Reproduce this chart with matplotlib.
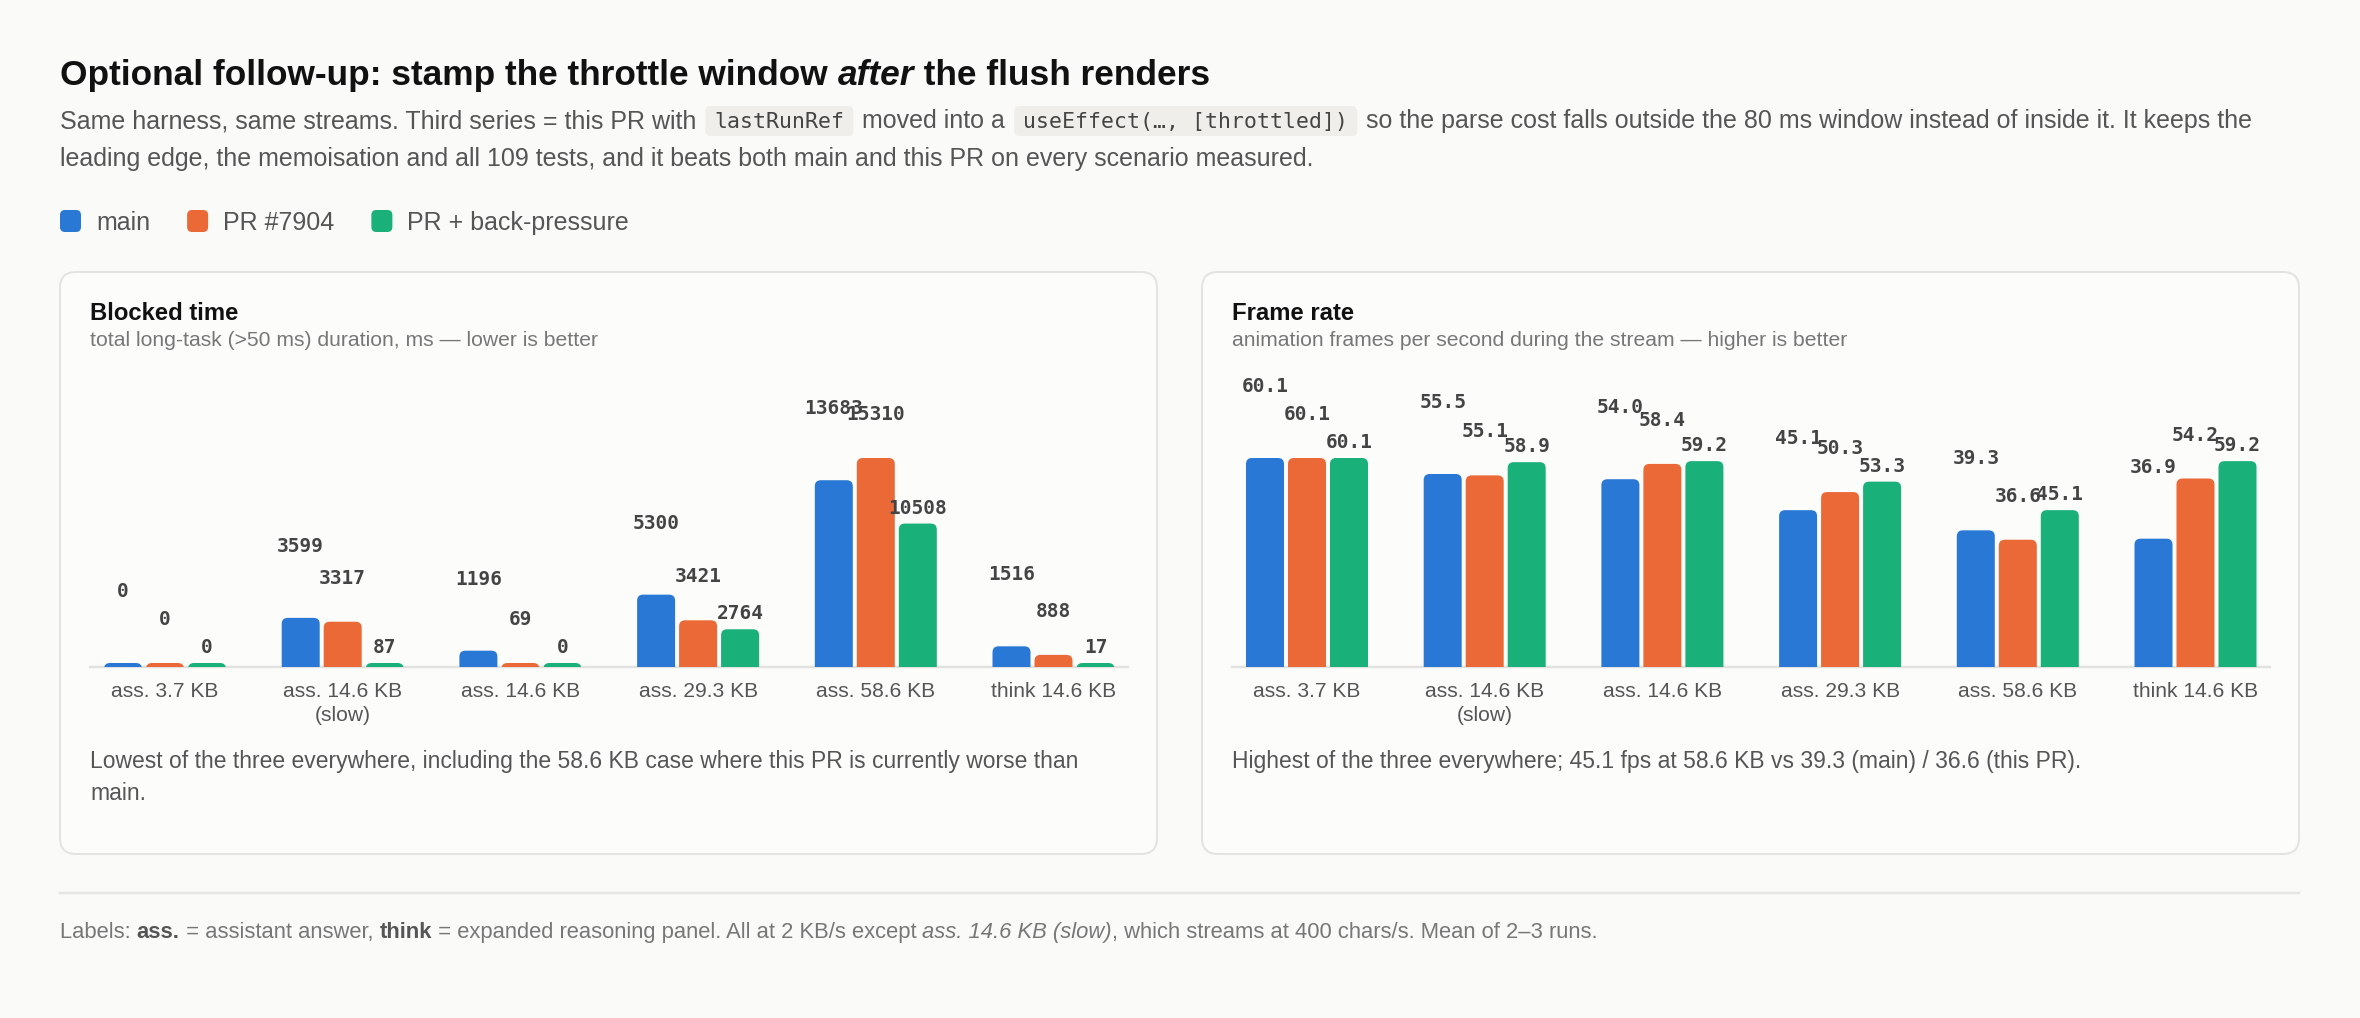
import matplotlib
matplotlib.use("Agg")
import matplotlib.pyplot as plt
from matplotlib.patches import FancyBboxPatch
from matplotlib.lines import Line2D
from matplotlib.transforms import IdentityTransform

# ---------------- data ----------------
categories = ["ass. 3.7 KB", "ass. 14.6 KB\n(slow)", "ass. 14.6 KB",
              "ass. 29.3 KB", "ass. 58.6 KB", "think 14.6 KB"]
series_names = ["main", "PR #7904", "PR + back-pressure"]
series_colors = ["#2a78d6", "#eb6837", "#1ab07a"]

blocked_main = [0, 3599, 1196, 5300, 13683, 1516]
blocked_pr = [0, 3317, 69, 3421, 15310, 888]
blocked_bp = [0, 87, 0, 2764, 10508, 17]

fps_main = [60.1, 55.5, 54.0, 45.1, 39.3, 36.9]
fps_pr = [60.1, 55.1, 58.4, 50.3, 36.6, 54.2]
fps_bp = [60.1, 58.9, 59.2, 53.3, 45.1, 59.2]

# ---------------- figure ----------------
W, H = 2360, 1018
DPI = 100
PT = 72 / DPI
BG = "#fafaf8"
fig = plt.figure(figsize=(W / DPI, H / DPI), dpi=DPI, facecolor=BG)
renderer = fig.canvas.get_renderer()
ID = IdentityTransform()

SANS = "Liberation Sans"
MONO = "DejaVu Sans Mono"


def ptext(x, y, s, **kw):
    return fig.text(x, H - y, s, transform=ID, **kw)


def measure(s, **kw):
    t = fig.text(0, 0, "|" + s + "|", transform=ID, **kw)
    w1 = t.get_window_extent(renderer).width
    t.set_text("||")
    w2 = t.get_window_extent(renderer).width
    t.remove()
    return w1 - w2


def draw_runs(x, y, runs, size, color, code_size=None, code_color="#444444"):
    for s, style, *rest in runs:
        c = rest[0] if rest else color
        if style == "code":
            kw = dict(family=MONO, fontsize=code_size, color=code_color)
            tw = measure(s, **kw)
            x += 2
            box = FancyBboxPatch((x, H - (y + 8)), tw + 18, 30,
                                 boxstyle="round,pad=0,rounding_size=5",
                                 transform=ID, fc="#efeeea", ec="none", zorder=-1)
            fig.add_artist(box)
            ptext(x + 9, y, s, va="baseline", **kw)
            x += tw + 18 + 2
            continue
        kw = dict(family=SANS, fontsize=size, color=c)
        if "b" in style:
            kw["fontweight"] = "bold"
        if "i" in style:
            kw["fontstyle"] = "italic"
        ptext(x, y, s, va="baseline", **kw)
        x += measure(s, **kw)
    return x


# ---------------- header ----------------
draw_runs(60, 85, [("Optional follow-up: stamp the throttle window ", "b"),
                   ("after", "bi"),
                   (" the flush renders", "b")], 25.4, "#111111")

draw_runs(60, 128, [("Same harness, same streams. Third series = this PR with ", "n"),
                    ("lastRunRef", "code"),
                    (" moved into a ", "n"),
                    ("useEffect(…, [throttled])", "code"),
                    (" so the parse cost falls outside the 80 ms window instead of inside it. It keeps the", "n")],
          18, "#555555", code_size=15.5)
draw_runs(60, 166, [("leading edge, the memoisation and all 109 tests, and it beats both main and this PR on every scenario measured.", "n")],
          18, "#555555")

# legend
lx = 60
for name, col in zip(series_names, series_colors):
    sq = FancyBboxPatch((lx, H - 232), 21, 22, boxstyle="round,pad=0,rounding_size=5",
                        transform=ID, fc=col, ec="none")
    fig.add_artist(sq)
    kw = dict(family=SANS, fontsize=18, color="#555555")
    ptext(lx + 36, 230, name, va="baseline", **kw)
    lx = lx + 36 + measure(name, **kw) + 37

# ---------------- cards ----------------
cards = [
    dict(x0=60, x1=1157, title="Blocked time",
         sub="total long-task (>50 ms) duration, ms \u2014 lower is better",
         data=[blocked_main, blocked_pr, blocked_bp], fmt="{:.0f}",
         note=["Lowest of the three everywhere, including the 58.6 KB case where this PR is currently worse than",
               "main."]),
    dict(x0=1202, x1=2299, title="Frame rate",
         sub="animation frames per second during the stream \u2014 higher is better",
         data=[fps_main, fps_pr, fps_bp], fmt="{:.1f}",
         note=["Highest of the three everywhere; 45.1 fps at 58.6 KB vs 39.3 (main) / 36.6 (this PR)."]),
]

CARD_TOP, CARD_BOT = 272, 854
AX_TOP, AX_BASE = 380, 667
STEP = 177.7
BAR_W = 38 / STEP
BAR_OFF = 42 / STEP
LABEL_OFF = [66, 38, 10]
R_PX = 6
MIN_PX = 4

for card in cards:
    x0, x1 = card["x0"], card["x1"]
    box = FancyBboxPatch((x0, H - CARD_BOT), x1 - x0, CARD_BOT - CARD_TOP,
                         boxstyle="round,pad=0,rounding_size=16", transform=ID,
                         fc="#fcfcfb", ec="#e3e3e1", lw=2 * PT, zorder=-5)
    fig.add_artist(box)
    ptext(x0 + 30, 320, card["title"], va="baseline", family=SANS,
          fontweight="bold", fontsize=17.2, color="#111111")
    ptext(x0 + 30, 346, card["sub"], va="baseline", family=SANS,
          fontsize=15.2, color="#777777")
    for k, line in enumerate(card["note"]):
        ptext(x0 + 30, 768 + 32 * k, line, va="baseline", family=SANS,
              fontsize=16.5, color="#555555")

    axl, axr = x0 + 30, x1 - 29
    ax = fig.add_axes([axl / W, 1 - AX_BASE / H, (axr - axl) / W, (AX_BASE - AX_TOP) / H])
    ax.patch.set_visible(False)
    for sp in ax.spines.values():
        sp.set_visible(False)
    ax.set_xticks([])
    ax.set_yticks([])
    xlim = (-75 / STEP, len(categories) - 1 + 74.5 / STEP)
    vmax = max(max(s) for s in card["data"])
    ymax = vmax * (AX_BASE - AX_TOP) / 209.0
    ax.set_xlim(*xlim)
    ax.set_ylim(0, ymax)
    xpp = (xlim[1] - xlim[0]) / (axr - axl)
    ypp = ymax / (AX_BASE - AX_TOP)

    ax.axhline(0, color="#e2e2e0", lw=2.5 * PT, zorder=1, clip_on=False)

    for j, (vals, col) in enumerate(zip(card["data"], series_colors)):
        for i, v in enumerate(vals):
            xc = i + (j - 1) * BAR_OFF
            h = max(v, MIN_PX * ypp)
            ext = 2 * R_PX * ypp
            bar = FancyBboxPatch((xc - BAR_W / 2, -ext), BAR_W, h + ext,
                                 boxstyle=f"round,pad=0,rounding_size={R_PX * xpp}",
                                 mutation_aspect=ypp / xpp, fc=col, ec="none", zorder=2)
            ax.add_patch(bar)
            ax.annotate(card["fmt"].format(v), xy=(xc, h), xytext=(0, LABEL_OFF[j]),
                        textcoords="offset pixels", ha="center", va="baseline",
                        family=MONO, fontweight="bold", fontsize=14, color="#444444",
                        annotation_clip=False, zorder=4)

    for i, cat in enumerate(categories):
        for k, line in enumerate(cat.split("\n")):
            xd = ax.transData.transform((i, 0))[0]
            ptext(xd, 697 + 24 * k, line, ha="center", va="baseline", family=SANS,
                  fontsize=15.1, color="#555555")

# ---------------- footer ----------------
fig.add_artist(Line2D([60, 2299], [H - 893, H - 893], transform=ID, color="#e6e6e4", lw=2.5 * PT))
draw_runs(60, 938, [("Labels: ", "n"), ("ass.", "b", "#555555"), (" = assistant answer, ", "n"),
                    ("think", "b", "#555555"),
                    (" = expanded reasoning panel. All at 2 KB/s except ", "n"),
                    ("ass. 14.6 KB (slow)", "i"),
                    (", which streams at 400 chars/s. Mean of 2\u20133 runs.", "n")],
          15.8, "#777777")

fig.savefig("out.png", dpi=DPI, facecolor=BG)
